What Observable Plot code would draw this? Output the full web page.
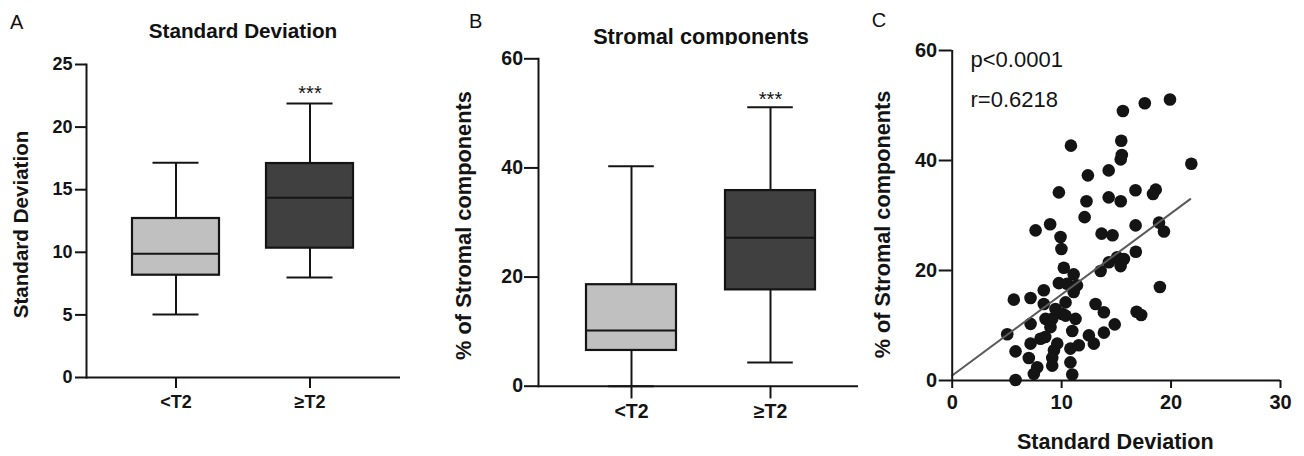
<!DOCTYPE html>
<html><head><meta charset="utf-8">
<script src="https://cdn.jsdelivr.net/npm/d3@7"></script>
<script src="https://cdn.jsdelivr.net/npm/@observablehq/plot@0.6"></script>
<style>
body{margin:0;background:#fff;}
#wrap{position:relative;width:1304px;height:456px;overflow:hidden;background:#fff;font-family:"Liberation Sans",Arial,Helvetica,sans-serif;color:#111}
.panel{position:absolute;top:0}
.lbl{position:absolute;white-space:nowrap;line-height:1}
</style></head><body><div id="wrap"></div>
<script>
// ---- data ----
const groups = ["<T2", "≥T2"];
const boxFills = ["#c0c0c0", "#404040"];
const sigLabels = ["", "***"];

// Panel A: Standard Deviation
const sdMin    = [5.03, 7.99];
const sdQ1     = [8.17, 10.33];
const sdMedian = [9.88, 14.35];
const sdQ3     = [12.70, 17.09];
const sdMax    = [17.15, 21.88];
const sdTicks  = [0, 5, 10, 15, 20, 25];

// Panel B: Stromal components
const stMin    = [0, 4.35];
const stQ1     = [6.55, 17.65];
const stMedian = [10.2, 27.2];
const stQ3     = [18.6, 35.85];
const stMax    = [40.3, 51.1];
const stTicks  = [0, 20, 40, 60];

// Panel C: scatter
const scatterSD = [19.9,17.6,15.6,10.85,15.45,15.5,15.4,21.85,14.3,12.4,9.75,16.75,18.6,18.35,14.3,15.4,12.27,12.1,8.95,16.76,18.9,19.35,7.62,9.9,9.98,13.65,14.65,16.78,
  15.08,15.69,14.32,15.39,13.56,
  10.2,11.1,9.75,10.5,11.4,11.1,8.37,18.98,
  5.63,7.16,8.37,10.36,13.1,13.86,14.85,9.44,10.05,8.53,9.14,10.36,11.27,7.16,8.98,5.03,10.97,12.49,13.86,8.07,8.5,7.16,9.6,10.8,11.57,12.94,5.79,9.3,7.0,9.14,10.8,9.14,7.77,7.46,10.97,5.79,16.85,17.27];
const scatterStroma = [51.1,50.4,49.0,42.7,43.6,41.0,40.2,39.4,38.2,37.3,34.2,34.6,34.7,33.9,33.3,32.6,32.6,29.7,28.4,28.2,28.7,27.1,27.3,26.1,23.9,26.7,26.4,23.4,
  22.4,22.1,21.5,20.8,19.9,
  20.5,19.3,17.7,17.6,17.3,16.1,16.4,17.0,
  14.7,15.0,13.9,14.2,13.9,12.4,10.2,13.0,12.1,11.2,11.2,11.8,11.2,10.3,9.7,8.4,9.0,8.2,8.7,7.6,7.9,6.7,6.7,5.8,6.4,6.7,5.3,5.5,4.1,4.1,3.3,2.7,2.4,1.2,1.1,0.1,12.5,11.9];
// fitted line as drawn in the figure
const fitIntercept = 0.9;
const fitSlope = 1.475;
const fitXRange = [0, 21.75];
const sdAxisTicks = [0, 10, 20, 30];
const pText = "p<0.0001";
const rText = "r=0.6218";

// ---- rendering ----
const FONT = '"Liberation Sans", Arial, Helvetica, sans-serif';
const INK = "#141414";
const wrap = document.getElementById("wrap");

function addLabel(text, left, baseline, size, weight, center) {
  const d = document.createElement("div");
  d.className = "lbl";
  d.textContent = text;
  d.style.fontSize = size + "px";
  d.style.fontWeight = weight;
  d.style.top = (baseline - 0.8465 * size) + "px";
  d.style.left = left + "px";
  if (center) d.style.transform = "translateX(-50%)";
  wrap.appendChild(d);
  return d;
}

function boxPanel(o) {
  const rows = groups.map((g, i) => ({group: g, min: o.min[i], q1: o.q1[i], med: o.med[i], q3: o.q3[i], max: o.max[i], fill: boxFills[i], sig: sigLabels[i]}));
  const el = Plot.plot({
    width: o.width, height: o.height,
    marginLeft: o.ml, marginRight: o.mr, marginTop: o.mt, marginBottom: o.mb,
    x: {type: "band", domain: groups, paddingInner: o.pi, paddingOuter: o.po, align: o.align},
    y: {domain: o.yDomain},
    style: {fontFamily: FONT, fontSize: o.fs + "px", fontWeight: "bold", background: "transparent", overflow: "visible"},
    marks: [
      Plot.ruleX(rows, {x: "group", y1: "min", y2: "max", stroke: INK, strokeWidth: 2}),
      Plot.barY(rows, {x: "group", y1: "q1", y2: "q3", fill: "fill", stroke: INK, strokeWidth: 2.2}),
      Plot.tickY(rows, {x: "group", y: "med", stroke: INK, strokeWidth: 2}),
      Plot.tickY(rows, {x: "group", y: "min", stroke: INK, strokeWidth: 2, inset: o.capInset}),
      Plot.tickY(rows, {x: "group", y: "max", stroke: INK, strokeWidth: 2, inset: o.capInset}),
      Plot.text(rows, {x: "group", y: "max", text: "sig", dy: o.starDy, fontSize: 20, fontWeight: "normal", fill: INK, fontFamily: FONT}),
      Plot.axisY({ticks: o.yTicks, tickSize: o.tsy, tickPadding: o.tpy, fontSize: o.fs, fontWeight: "bold", label: null, strokeWidth: 2, color: INK, fontFamily: FONT}),
      Plot.axisX({tickSize: o.tsx, tickPadding: o.tpx, fontSize: o.fs, fontWeight: "bold", label: null, strokeWidth: 2, color: INK, fontFamily: FONT}),
      Plot.ruleY([0], {stroke: INK, strokeWidth: 2}),
      Plot.frame({anchor: "left", stroke: INK, strokeWidth: 2}),
      Plot.text([o.yLabel], {text: d => d, frameAnchor: "left", textAnchor: "middle", lineAnchor: "middle", rotate: -90, dx: o.ldx, dy: o.ldy, fontSize: o.lfs, fontWeight: "bold", fill: INK, fontFamily: FONT})
    ]
  });
  el.classList.add("panel");
  el.style.left = o.left + "px";
  wrap.appendChild(el);
}

boxPanel({left: 0, width: 430, height: 456, ml: 86, mr: 30, mt: 64, mb: 79,
  pi: 0.35, po: 0.3466, align: 0.5, capInset: 20.5,
  min: sdMin, q1: sdQ1, med: sdMedian, q3: sdQ3, max: sdMax,
  yDomain: [0, 25], yTicks: sdTicks, tsy: 11, tpy: 3, tsx: 11, tpx: 6.5, fs: 18,
  starDy: -10, yLabel: "Standard Deviation", ldx: -65, ldy: 3.5, lfs: 20.6});

boxPanel({left: 430, width: 430, height: 456, ml: 108, mr: 2, mt: 58.3, mb: 70.3,
  pi: 0.35, po: 0.32, align: 0.53, capInset: 22.2,
  min: stMin, q1: stQ1, med: stMedian, q3: stQ3, max: stMax,
  yDomain: [0, 60], yTicks: stTicks, tsy: 14, tpy: 1.5, tsx: 12.7, tpx: 5, fs: 19.5,
  starDy: -8, yLabel: "% of Stromal components", ldx: -74, ldy: 3, lfs: 21.8});

// Panel C
const pts = scatterSD.map((x, i) => ({x, y: scatterStroma[i]}));
const fit = fitXRange.map(x => ({x, y: fitIntercept + fitSlope * x}));

const c = Plot.plot({
  width: 444, height: 456, marginLeft: 91.7, marginRight: 24, marginTop: 50, marginBottom: 76,
  x: {domain: [0, 30]}, y: {domain: [0, 60]},
  style: {fontFamily: FONT, fontSize: "20px", fontWeight: "bold", background: "transparent", overflow: "visible"},
  marks: [
    Plot.dot(pts, {x: "x", y: "y", r: 6.3, fill: INK}),
    Plot.line(fit, {x: "x", y: "y", stroke: "#5a5a5a", strokeWidth: 2}),
    Plot.axisY({ticks: stTicks, tickSize: 13, tickPadding: 2, fontSize: 20, fontWeight: "bold", label: null, strokeWidth: 2, color: INK, fontFamily: FONT}),
    Plot.axisX({ticks: sdAxisTicks, tickSize: 8, tickPadding: 6, fontSize: 20, fontWeight: "bold", label: null, strokeWidth: 2, color: INK, fontFamily: FONT}),
    Plot.ruleX([0], {stroke: INK, strokeWidth: 2}),
    Plot.ruleY([0], {stroke: INK, strokeWidth: 2}),
    Plot.text([pText], {text: d => d, frameAnchor: "top-left", lineAnchor: "bottom", textAnchor: "start", dx: 18.3, dy: 16.7, fontSize: 22, fontWeight: "normal", fill: INK, fontFamily: FONT}),
    Plot.text([rText], {text: d => d, frameAnchor: "top-left", lineAnchor: "bottom", textAnchor: "start", dx: 18.3, dy: 56.3, fontSize: 22, fontWeight: "normal", fill: INK, fontFamily: FONT}),
    Plot.text(["% of Stromal components"], {text: d => d, frameAnchor: "left", textAnchor: "middle", lineAnchor: "middle", rotate: -90, dx: -68.7, dy: 9, fontSize: 21.7, fontWeight: "bold", fill: INK, fontFamily: FONT}),
    Plot.text(["Standard Deviation"], {text: d => d, frameAnchor: "bottom", textAnchor: "middle", lineAnchor: "bottom", dx: -1, dy: 68, fontSize: 21.6, fontWeight: "bold", fill: INK, fontFamily: FONT})
  ]
});
c.classList.add("panel");
c.style.left = "860px";
wrap.appendChild(c);

// Titles and panel letters
addLabel("Standard Deviation", 243, 39, 20.7, "bold", true);
const clip = document.createElement("div");
clip.style.cssText = "position:absolute;left:430px;top:0;width:430px;height:44.6px;overflow:hidden";
wrap.appendChild(clip);
const tB = document.createElement("div");
tB.className = "lbl";
tB.textContent = "Stromal components";
tB.style.cssText += ";font-size:21.7px;font-weight:bold;left:271px;transform:translateX(-50%);top:" + (44 - 0.8465 * 21.7) + "px";
clip.appendChild(tB);
addLabel("A", 10, 29.3, 20, "normal", false);
addLabel("B", 469, 28.3, 20, "normal", false);
addLabel("C", 871.7, 26.7, 20, "normal", false);
</script></body></html>
